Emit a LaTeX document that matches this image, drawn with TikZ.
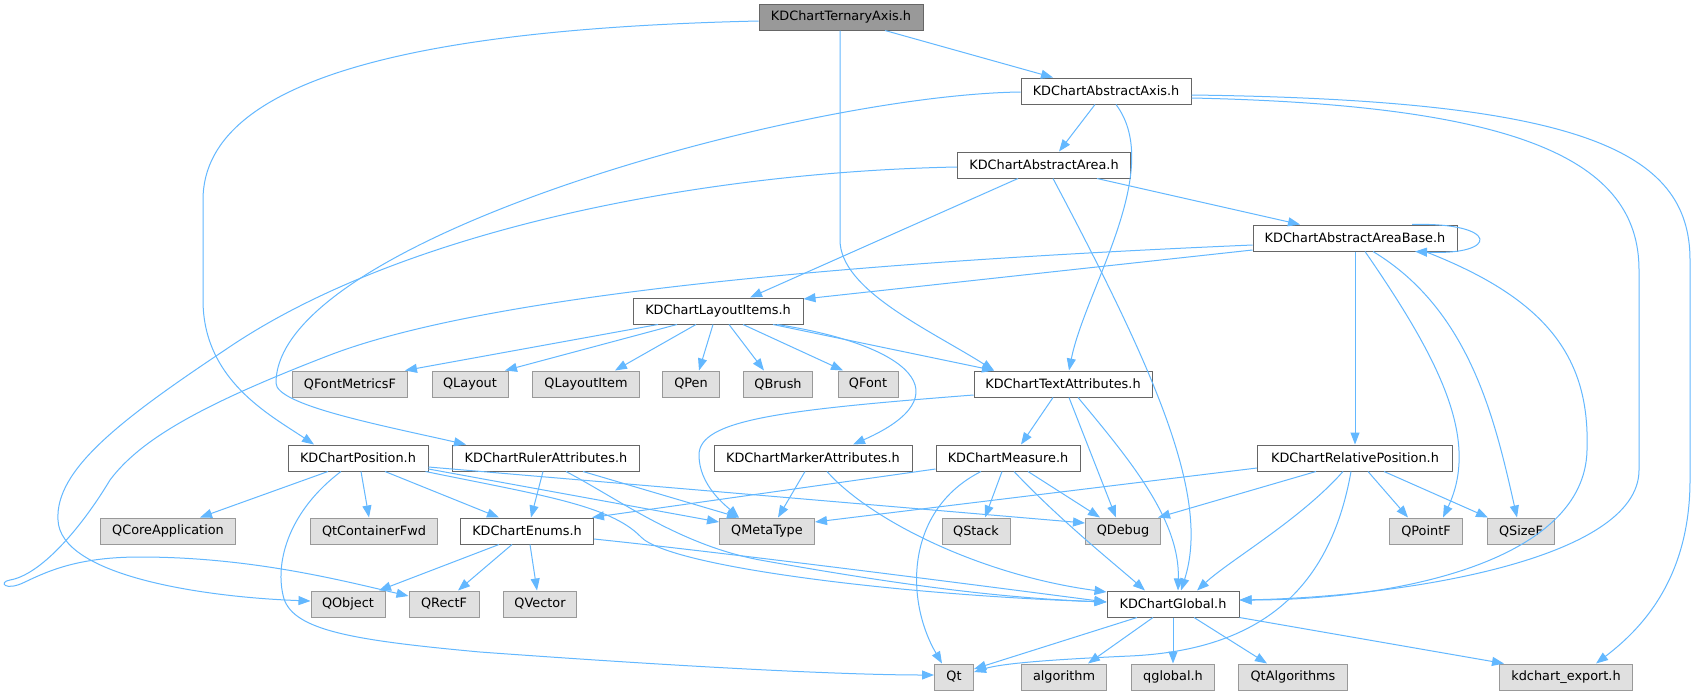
\documentclass[tikz,border=0pt]{standalone}
\usepackage{fontspec}
\setmainfont{DejaVu Sans}
\usetikzlibrary{arrows.meta}
\definecolor{edgecol}{HTML}{63B8FF}
\definecolor{docborder}{HTML}{666666}
\definecolor{extborder}{HTML}{999999}
\definecolor{extfill}{HTML}{E0E0E0}
\definecolor{ternfill}{HTML}{999999}
\begin{document}
\begin{tikzpicture}[x=1pt,y=-1pt,
  box/.style={minimum height=26pt, inner xsep=4pt, inner ysep=0pt, line width=1pt,
    font=\fontsize{12.85pt}{15pt}\selectfont, text=black, anchor=center},
  doc/.style={box, draw=docborder, fill=white},
  ext/.style={box, draw=extborder, fill=extfill},
  cur/.style={box, draw=docborder, fill=ternfill},
  dep/.style={draw=edgecol, line width=1pt, -{Triangle[length=12pt,width=9pt]}}]
\useasboundingbox (0,0) rectangle (1696,696);
\fill[white] (0,0) rectangle (1696,696);
% nodes
\node[cur, minimum width=164pt] (tern) at (841,17) {KDChartTernaryAxis.h};
\node[doc, minimum width=170pt] (axis) at (1106,91) {KDChartAbstractAxis.h};
\node[doc, minimum width=173pt] (area) at (1044,165) {KDChartAbstractArea.h};
\node[doc, minimum width=204pt] (base) at (1355,238) {KDChartAbstractAreaBase.h};
\node[doc, minimum width=170pt] (layout) at (718,311) {KDChartLayoutItems.h};
\node[ext, minimum width=115pt] (qfm) at (350,384) {QFontMetricsF};
\node[ext, minimum width=76pt] (qlayout) at (470,384) {QLayout};
\node[ext, minimum width=107pt] (qlayoutitem) at (586,384) {QLayoutItem};
\node[ext, minimum width=57pt] (qpen) at (691,384) {QPen};
\node[ext, minimum width=69pt] (qbrush) at (778,384) {QBrush};
\node[ext, minimum width=60pt] (qfont) at (868,384) {QFont};
\node[doc, minimum width=178pt] (text) at (1063,384) {KDChartTextAttributes.h};
\node[doc, minimum width=140pt] (pos) at (358,458) {KDChartPosition.h};
\node[doc, minimum width=187pt] (ruler) at (546,458) {KDChartRulerAttributes.h};
\node[doc, minimum width=198pt] (marker) at (813,458) {KDChartMarkerAttributes.h};
\node[doc, minimum width=144pt] (measure) at (1008,458) {KDChartMeasure.h};
\node[doc, minimum width=195pt] (relpos) at (1355,458) {KDChartRelativePosition.h};
\node[ext, minimum width=135pt] (qcore) at (168,531) {QCoreApplication};
\node[ext, minimum width=127pt] (qtcont) at (374,531) {QtContainerFwd};
\node[doc, minimum width=133pt] (enums) at (527,531) {KDChartEnums.h};
\node[ext, minimum width=95pt] (qmeta) at (767,531) {QMetaType};
\node[ext, minimum width=68pt] (qstack) at (976,531) {QStack};
\node[ext, minimum width=75pt] (qdebug) at (1123,531) {QDebug};
\node[ext, minimum width=73pt] (qpointf) at (1426,531) {QPointF};
\node[ext, minimum width=67pt] (qsizef) at (1521,531) {QSizeF};
\node[ext, minimum width=74pt] (qobject) at (348,604) {QObject};
\node[ext, minimum width=70pt] (qrectf) at (444,604) {QRectF};
\node[ext, minimum width=73pt] (qvector) at (540,604) {QVector};
\node[doc, minimum width=132pt] (global) at (1173,604) {KDChartGlobal.h};
\node[ext, minimum width=39pt] (qt) at (954,677) {Qt};
\node[ext, minimum width=85pt] (algorithm) at (1064,677) {algorithm};
\node[ext, minimum width=83pt] (qglobal) at (1173,677) {qglobal.h};
\node[ext, minimum width=109pt] (qtalgo) at (1293,677) {QtAlgorithms};
\node[ext, minimum width=133pt] (export) at (1566,677) {kdchart\_export.h};
% edges from KDChartTernaryAxis.h
\draw[dep] ([xshift=44pt]tern.south) -- ([xshift=-53pt]axis.north);
\draw[dep] ([xshift=-1pt]tern.south) -- (840,240) .. controls (840,290) and (930,330) .. ([xshift=-69pt]text.north);
\draw[dep] ([yshift=-4pt]tern.west) .. controls (450,28) and (203,70) .. (203,200) -- (203,300) .. controls (203,380) and (270,415) .. ([xshift=-44pt]pos.north);
% from KDChartAbstractAxis.h
\draw[dep] ([xshift=-11pt]axis.south) -- ([xshift=15pt]area.north);
\draw[dep] ([yshift=-1pt]axis.west) .. controls (800,95) and (276,240) .. (276,383) .. controls (276,405) and (380,425) .. ([xshift=-80pt]ruler.north);
\draw[dep] ([xshift=10pt]axis.south) .. controls (1165,170) and (1085,290) .. ([xshift=6pt]text.north);
\draw[dep] ([yshift=-7pt]axis.east) .. controls (1520,105) and (1639,160) .. (1639,270) -- (1639,470) .. controls (1639,560) and (1400,597) .. ([yshift=4pt]global.east);
\draw[dep] ([yshift=-4pt]axis.east) .. controls (1580,100) and (1690,150) .. (1690,260) -- (1690,480) .. controls (1690,580) and (1640,630) .. ([xshift=30pt]export.north);
% from KDChartAbstractArea.h
\draw[dep] ([xshift=53pt]area.south) -- ([xshift=-55pt]base.north);
\draw[dep] ([xshift=-26pt]area.south) -- ([xshift=32pt]layout.north);
\draw[dep] ([xshift=9pt]area.south) .. controls (1160,380) and (1210,500) .. ([xshift=8pt]global.north);
\draw[dep] ([yshift=-2pt]area.west) .. controls (700,172) and (400,230) .. (225,350) .. controls (120,420) and (55,470) .. (58,520) .. controls (60,575) and (200,597) .. ([yshift=3pt]qobject.west);
% from KDChartAbstractAreaBase.h
\draw[dep] ([xshift=57pt]base.north) .. controls (1500,222) and (1500,256) .. ([xshift=60pt]base.south);
\draw[dep] ([yshift=-12pt]base.west) -- ([yshift=12pt]layout.east);
\draw[dep] ([yshift=-7pt]base.west) .. controls (900,260) and (500,290) .. (330,355) .. controls (200,405) and (140,440) .. (110,480) .. controls (80,530) and (40,575) .. (10,580) .. controls (-2,582) and (5,592) .. (25,582) .. controls (50,570) and (80,557) .. (140,557) .. controls (250,557) and (340,580) .. ([yshift=8pt]qrectf.west);
\draw[dep] (base.south) -- (relpos.north);
\draw[dep] ([xshift=10pt]base.south) .. controls (1440,360) and (1480,440) .. ([xshift=17pt]qpointf.north);
\draw[dep] ([xshift=18pt]base.south) .. controls (1470,310) and (1495,420) .. ([xshift=-4pt]qsizef.north);
\draw[dep] ([xshift=70pt]base.south) .. controls (1550,300) and (1590,360) .. (1587,450) .. controls (1585,560) and (1400,600) .. ([yshift=4pt]global.east);
% from KDChartLayoutItems.h
\draw[dep] ([xshift=-60pt]layout.south) -- ([xshift=55pt]qfm.north);
\draw[dep] ([xshift=-41pt]layout.south) -- ([xshift=35pt]qlayout.north);
\draw[dep] ([xshift=-22pt]layout.south) -- ([xshift=29pt]qlayoutitem.north);
\draw[dep] ([xshift=-5pt]layout.south) -- ([xshift=8pt]qpen.north);
\draw[dep] ([xshift=11pt]layout.south) -- ([xshift=-14pt]qbrush.north);
\draw[dep] ([xshift=25pt]layout.south) -- ([xshift=-25pt]qfont.north);
\draw[dep] ([xshift=55pt]layout.south) -- ([xshift=-69pt]text.north);
\draw[dep] ([xshift=59pt]layout.south) .. controls (910,345) and (965,395) .. ([xshift=40pt]marker.north);
% from KDChartTextAttributes.h
\draw[dep] ([xshift=-10pt]text.south) -- ([xshift=13pt]measure.north);
\draw[dep] ([xshift=6pt]text.south) -- ([xshift=-7pt]qdebug.north);
\draw[dep] ([xshift=15pt]text.south) .. controls (1130,460) and (1180,520) .. ([xshift=5pt]global.north);
\draw[dep] ([yshift=-11pt]text.west) .. controls (780,410) and (699,420) .. (699,455) .. controls (699,485) and (725,505) .. ([xshift=-28pt]qmeta.north);
% from KDChartMeasure.h
\draw[dep] ([yshift=-11pt]measure.west) -- ([xshift=-2pt]enums.north east);
\draw[dep] ([xshift=-6pt]measure.south) -- ([xshift=9pt]qstack.north);
\draw[dep] ([xshift=20pt]measure.south) -- ([xshift=-23pt]qdebug.north);
\draw[dep] ([xshift=6pt]measure.south) .. controls (1060,520) and (1110,560) .. ([xshift=-28pt]global.north);
\draw[dep] ([xshift=-27pt]measure.south) .. controls (905,510) and (905,600) .. ([xshift=-12pt]qt.north);
% from KDChartRelativePosition.h
\draw[dep] ([yshift=-10pt]relpos.west) -- ([yshift=9pt]qmeta.east);
\draw[dep] ([xshift=-39pt]relpos.south) -- ([xshift=-3pt]qdebug.north east);
\draw[dep] ([xshift=-12pt]relpos.south) .. controls (1300,520) and (1230,560) .. ([xshift=24pt]global.north);
\draw[dep] ([xshift=-4pt]relpos.south) .. controls (1330,590) and (1260,650) .. (1130,656) .. controls (1040,660) and (1000,664) .. ([yshift=5pt]qt.east);
\draw[dep] ([xshift=13pt]relpos.south) -- ([xshift=-18pt]qpointf.north);
\draw[dep] ([xshift=29pt]relpos.south) -- ([xshift=-33pt]qsizef.north);
% from KDChartGlobal.h
\draw[dep] ([xshift=-36pt]global.south) -- ([yshift=8pt]qt.east);
\draw[dep] ([xshift=-20pt]global.south) -- ([xshift=24pt]algorithm.north);
\draw[dep] (global.south) -- (qglobal.north);
\draw[dep] ([xshift=21pt]global.south) -- ([xshift=-26pt]qtalgo.north);
\draw[dep] (global.south east) -- ([xshift=5pt]export.north west);
% from KDChartPosition.h
\draw[dep] ([xshift=-30pt]pos.south) -- ([xshift=32pt]qcore.north);
\draw[dep] ([xshift=3pt]pos.south) -- ([xshift=-5pt]qtcont.north);
\draw[dep] ([xshift=27pt]pos.south) -- ([xshift=-28pt]enums.north);
\draw[dep] ([yshift=-11pt]pos.east) -- ([yshift=9pt]qmeta.west);
\draw[dep] ([yshift=-9pt]pos.east) -- ([yshift=8pt]qdebug.west);
\draw[dep] ([xshift=-3pt]pos.south east) .. controls (540,495) and (610,505) .. (641,537) .. controls (670,567) and (900,595) .. ([yshift=2pt]global.west);
\draw[dep] ([xshift=-17pt]pos.south) .. controls (290,510) and (275,560) .. (283,595) .. controls (290,630) and (350,640) .. (480,652) .. controls (700,668) and (850,675) .. ([yshift=2pt]qt.west);
% from KDChartRulerAttributes.h
\draw[dep] ([xshift=-3pt]ruler.south) -- ([xshift=4pt]enums.north);
\draw[dep] ([xshift=37pt]ruler.south) -- ([xshift=-28pt]qmeta.north);
\draw[dep] ([xshift=20pt]ruler.south) .. controls (620,500) and (680,545) .. (760,560) .. controls (900,585) and (1000,598) .. ([yshift=2pt]global.west);
% from KDChartMarkerAttributes.h
\draw[dep] ([xshift=-8pt]marker.south) -- ([xshift=11pt]qmeta.north);
\draw[dep] ([xshift=14pt]marker.south) .. controls (870,520) and (980,575) .. ([yshift=12pt]global.west);
% from KDChartEnums.h
\draw[dep] ([xshift=-28pt]enums.south) -- ([xshift=31pt]qobject.north);
\draw[dep] ([xshift=-15pt]enums.south) -- ([xshift=14pt]qrectf.north);
\draw[dep] ([xshift=3pt]enums.south) -- ([xshift=-3pt]qvector.north);
\draw[dep] ([yshift=-8pt]enums.east) .. controls (700,550) and (900,575) .. ([yshift=2pt]global.west);
\end{tikzpicture}
\end{document}
